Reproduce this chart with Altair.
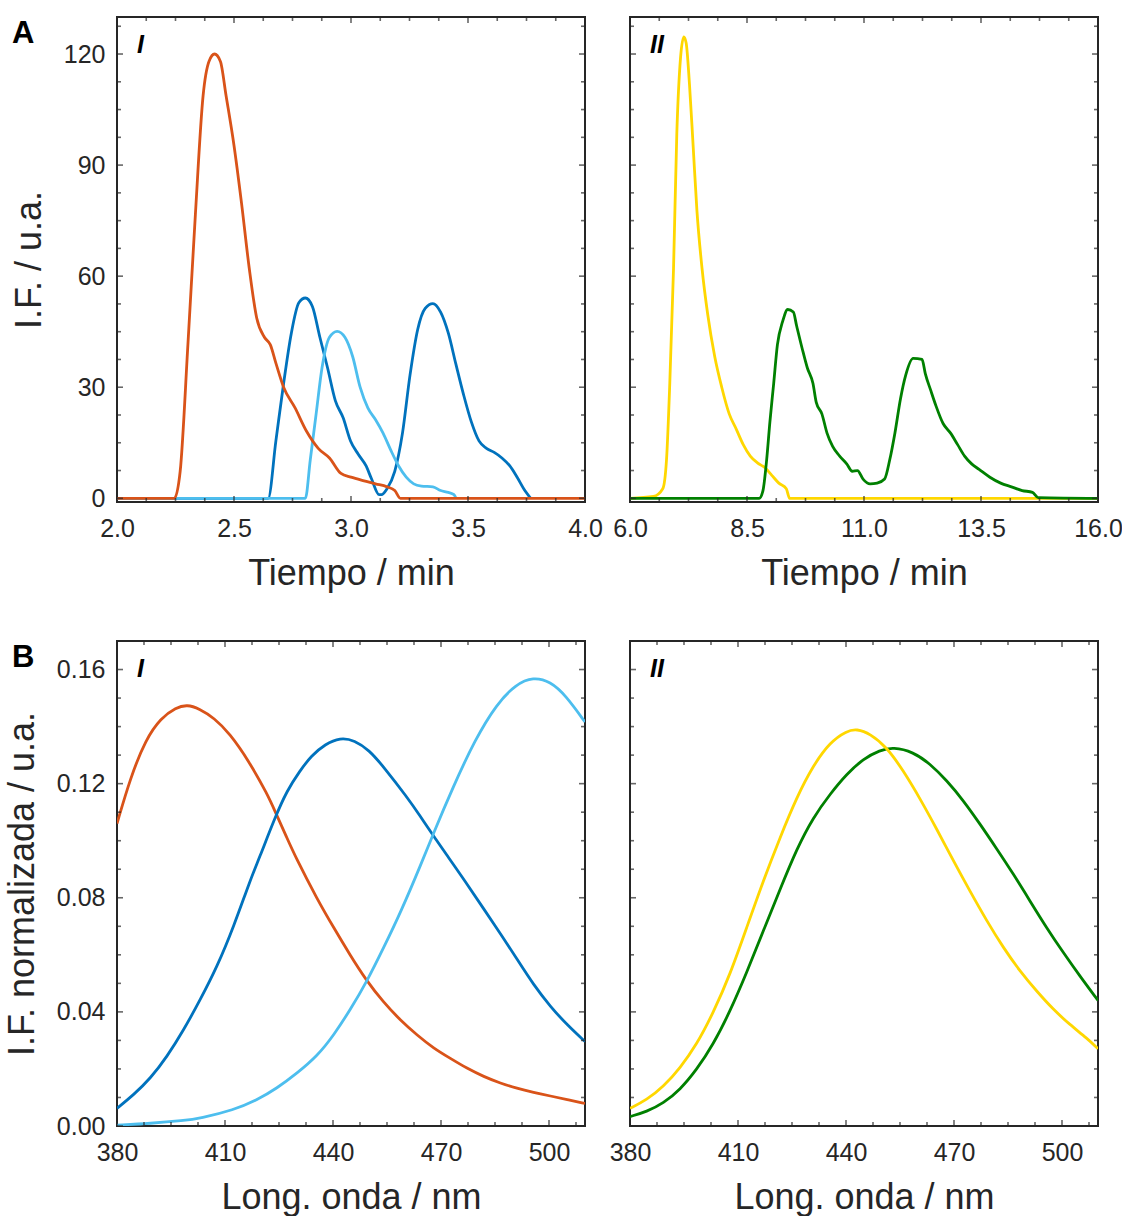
import altair as alt
import pandas as pd

FONT = "Liberation Sans"
INK = "#262626"
C_ORANGE = "#D95319"
C_BLUE = "#0072BD"
C_LBLUE = "#4DBEEE"
C_YELLOW = "#FFD700"
C_GREEN = "#008000"

# ---------------- A-I : chromatograms (Tiempo / min, I.F. / u.a.)
a1_blue_t = [2.0, 2.646, 2.679, 2.712, 2.745, 2.777, 2.805, 2.835, 2.867, 2.9, 2.933, 2.966, 2.998,
             3.031, 3.064, 3.088, 3.12, 3.13, 3.154, 3.187, 3.22, 3.252, 3.285, 3.317, 3.35, 3.383,
             3.416, 3.448, 3.481, 3.514, 3.547, 3.579, 3.612, 3.645, 3.678, 3.71, 3.743, 3.768]
a1_blue_y = [0, 0, 15.5, 31, 44.6, 52.8, 54.1, 51.8, 43.5, 35.2, 26.4, 21.8, 15.5,
             11.9, 8.8, 5.2, 1.0, 1.0, 2.6, 7.3, 17.6, 33.2, 45.6, 51.3, 52.6, 50.3,
             44.6, 36.3, 28.0, 20.7, 15.5, 13.5, 12.4, 10.9, 8.8, 5.7, 2.1, 0]
a1_lblue_t = [2.0, 2.805, 2.826, 2.851, 2.876, 2.908, 2.941, 2.974, 3.007, 3.039, 3.072, 3.105,
              3.137, 3.17, 3.203, 3.236, 3.268, 3.301, 3.35, 3.383, 3.416, 3.44, 3.449]
a1_lblue_y = [0, 0, 10.4, 22.8, 35.2, 43.5, 45.1, 43.5, 38.3, 30.0, 24.4, 21.2,
              17.6, 13.0, 8.8, 5.7, 3.9, 3.3, 3.1, 2.1, 1.6, 1.0, 0]
a1_orange_t = [2.0, 2.245, 2.27, 2.303, 2.335, 2.368, 2.393, 2.417, 2.442, 2.466, 2.5, 2.532,
               2.565, 2.597, 2.63, 2.655, 2.68, 2.712, 2.761, 2.81, 2.86, 2.908, 2.957, 3.0,
               3.056, 3.105, 3.154, 3.187, 3.211, 4.0]
a1_orange_y = [0, 0, 7.3, 41.5, 76.7, 108.8, 118.0, 120.0, 118.0, 108.8, 95.3, 79.8,
               62.2, 48.7, 43.5, 41.5, 36.3, 30.0, 24.4, 18.1, 13.5, 10.9, 6.7, 5.7,
               4.7, 3.9, 3.1, 2.1, 0, 0]

# ---------------- A-II
a2_yellow_t = [6.0, 6.5, 6.7, 6.78, 6.85, 6.93, 7.0, 7.08, 7.15, 7.2, 7.27, 7.35, 7.43, 7.54,
               7.66, 7.81, 7.96, 8.12, 8.27, 8.42, 8.57, 8.73, 8.88, 9.03, 9.18, 9.34, 9.41, 16.0]
a2_yellow_y = [0, 0.5, 2.6, 10.4, 31.0, 62.0, 98.4, 119.0, 124.6, 123.0, 112.0, 95.0, 77.7, 62.0,
               49.7, 38.3, 30.0, 22.8, 18.7, 14.5, 11.4, 9.5, 8.3, 6.2, 4.1, 2.6, 0, 0]
a2_green_t = [6.0, 8.76, 8.84, 8.92, 8.99, 9.07, 9.15, 9.26, 9.37, 9.49, 9.56, 9.68, 9.79, 9.91,
              9.98, 10.1, 10.21, 10.33, 10.48, 10.63, 10.75, 10.86, 10.98, 11.13, 11.28, 11.44,
              11.55, 11.66, 11.78, 11.89, 12.05, 12.24, 12.31, 12.43, 12.54, 12.69, 12.85, 13.0,
              13.15, 13.3, 13.46, 13.69, 13.92, 14.15, 14.38, 14.6, 14.72, 16.0]
a2_green_y = [0, 0, 2.0, 10.4, 20.7, 31.0, 41.5, 47.7, 51.0, 50.3, 46.6, 40.4, 35.2, 31.0,
              25.9, 22.8, 17.6, 14.0, 11.4, 9.3, 7.3, 7.5, 5.2, 3.9, 4.1, 5.2,
              10.4, 17.6, 26.9, 33.2, 37.8, 37.5, 33.7, 29.0, 24.9, 20.2, 17.6, 14.5,
              11.4, 9.3, 7.8, 5.7, 4.1, 3.1, 2.1, 1.6, 0.2, 0]

# ---------------- B-I : spectra (Long. onda / nm, I.F. normalizada / u.a.)
b1_orange_w = [380, 383.7, 388, 392.2, 396.4, 399.5, 402.8, 407, 411.3, 416.6, 421.9, 424, 427.2,
               429.5, 435.6, 440.2, 444.8, 449, 454.1, 458.7, 463.3, 468, 472.6, 477.2, 481.9,
               486.5, 491.1, 495.7, 500.4, 505, 510]
b1_orange_v = [0.106, 0.122, 0.1356, 0.143, 0.1467, 0.1477, 0.1463, 0.143, 0.1376, 0.128, 0.116,
               0.110, 0.101, 0.0945, 0.0795, 0.0695, 0.0598, 0.0515, 0.0432, 0.0371, 0.0319,
               0.0272, 0.0237, 0.0202, 0.0173, 0.015, 0.0132, 0.0118, 0.0105, 0.0093, 0.0079]
b1_blue_w = [380, 384.6, 389.3, 393.9, 398.5, 403.1, 407.8, 412.4, 417, 419.4, 424, 427.2, 430.8,
             434, 437.8, 442, 446, 450, 454, 460.5, 464.3, 467.7, 472, 477.1, 481.9, 486.5,
             491.1, 495.7, 500.4, 505, 510]
b1_blue_v = [0.0062, 0.0109, 0.0167, 0.0243, 0.0336, 0.0442, 0.0558, 0.0698, 0.0862, 0.0935, 0.1085,
             0.1175, 0.1245, 0.1298, 0.1338, 0.1362, 0.1352, 0.1318, 0.126, 0.1154, 0.1085, 0.102,
             0.0943, 0.0851, 0.076, 0.0675, 0.0585, 0.0495, 0.0418, 0.0355, 0.0296]
b1_lblue_w = [380, 389.3, 398.5, 403.1, 412.4, 418.9, 424.4, 430, 435.6, 440.2, 444.8, 449.4,
              454.1, 458.7, 464.7, 467.7, 473.4, 479.4, 485.5, 490.8, 495.6, 500.4, 504.6, 510]
b1_lblue_v = [0.0003, 0.0009, 0.0019, 0.0027, 0.0056, 0.0091, 0.0132, 0.0185, 0.0245, 0.0318,
              0.0408, 0.0506, 0.0626, 0.0746, 0.0925, 0.102, 0.119, 0.1353, 0.148, 0.1548,
              0.1574, 0.1558, 0.151, 0.1416]

# ---------------- B-II
b2_yellow_w = [380, 384.6, 389.3, 393.9, 398.5, 403.1, 407.8, 412.4, 417, 421.7, 426.3, 430.9,
               435.6, 440.2, 443, 446.7, 451.3, 455.9, 460.6, 465.2, 469.8, 474.4, 479.1, 483.7,
               488.3, 493, 497.6, 502.2, 506.9, 510]
b2_yellow_v = [0.0062, 0.0091, 0.0138, 0.0203, 0.0285, 0.0396, 0.0531, 0.0695, 0.0859, 0.1012,
               0.1152, 0.1264, 0.1346, 0.1385, 0.1392, 0.1375, 0.1328, 0.1246, 0.1147, 0.1041,
               0.093, 0.0824, 0.0719, 0.0625, 0.0543, 0.0472, 0.0408, 0.0355, 0.0308, 0.0271]
b2_green_w = [380, 384.6, 389.3, 393.9, 398.5, 403.1, 407.8, 412.4, 417, 421.7, 426.3, 430.9,
              435.6, 440.2, 444.8, 449.4, 453.1, 458.7, 463.3, 468, 472.6, 477.2, 481.9, 486.5,
              491.1, 495.7, 500.4, 505, 510]
b2_green_v = [0.0033, 0.005, 0.008, 0.0127, 0.0197, 0.0285, 0.0402, 0.0537, 0.0683, 0.083,
              0.0971, 0.1082, 0.1164, 0.1234, 0.1287, 0.1317, 0.1328, 0.1311, 0.127, 0.1211,
              0.1141, 0.1059, 0.0971, 0.0883, 0.0789, 0.0695, 0.0607, 0.0525, 0.044]

# ---------------- axes: tick values and labels
a1_xticks = [2.0, 2.125, 2.25, 2.375, 2.5, 2.625, 2.75, 2.875, 3.0, 3.125, 3.25, 3.375, 3.5,
             3.625, 3.75, 3.875, 4.0]
a1_xlabels = [2.0, 2.5, 3.0, 3.5, 4.0]
a2_xticks = [6.0, 6.625, 7.25, 7.875, 8.5, 9.125, 9.75, 10.375, 11.0, 11.625, 12.25, 12.875,
             13.5, 14.125, 14.75, 15.375, 16.0]
a2_xlabels = [6.0, 8.5, 11.0, 13.5, 16.0]
a_yticks = [0, 7.5, 15, 22.5, 30, 37.5, 45, 52.5, 60, 67.5, 75, 82.5, 90, 97.5, 105, 112.5, 120, 127.5]
a_ylabels = [0, 30, 60, 90, 120]
b_xticks = [380, 387.5, 395, 402.5, 410, 417.5, 425, 432.5, 440, 447.5, 455, 462.5, 470, 477.5,
            485, 492.5, 500, 507.5]
b_xlabels = [380, 410, 440, 470, 500]
b_yticks = [0.0, 0.01, 0.02, 0.03, 0.04, 0.05, 0.06, 0.07, 0.08, 0.09, 0.1, 0.11, 0.12, 0.13,
            0.14, 0.15, 0.16, 0.17]
b_ylabels = [0.0, 0.04, 0.08, 0.12, 0.16]

W, H = 468, 485
TICK_MAJOR, TICK_MINOR = 6, 4


def panel(lines, xdom, ydom, xticks, xmajor, yticks, ymajor, xfmt, yfmt,
          xtitle, ytitle, tag, curve, letter=None):
    xscale = alt.Scale(domain=xdom, nice=False, zero=False)
    yscale = alt.Scale(domain=ydom, nice=False, zero=False)
    xaxis = alt.Axis(values=xmajor, format=xfmt, title=xtitle, labelPadding=14, titlePadding=15)
    if ytitle:
        yaxis = alt.Axis(values=ymajor, format=yfmt, title=ytitle, labelPadding=12, titlePadding=15)
    else:
        yaxis = None
    X = alt.X("x:Q", scale=xscale, axis=xaxis)
    Y = alt.Y("y:Q", scale=yscale, axis=yaxis)
    layers = []
    for xs, ys, col in lines:
        df = pd.DataFrame({"x": xs, "y": ys})
        layers.append(alt.Chart(df).mark_line(color=col, strokeWidth=2.8, clip=True,
                                              interpolate=curve)
                      .encode(x=X, y=Y))
    xt = pd.DataFrame({"x": xticks, "major": [v in xmajor for v in xticks]})
    yt = pd.DataFrame({"y": yticks, "major": [v in ymajor for v in yticks]})
    size = alt.condition("datum.major", alt.value(2 * TICK_MAJOR), alt.value(2 * TICK_MINOR))
    for pos in (0, H):
        layers.append(alt.Chart(xt).mark_tick(orient="vertical", clip=True, thickness=1.6, color=INK)
                      .encode(x=X, y=alt.value(pos), size=size))
    for pos in (0, W):
        layers.append(alt.Chart(yt).mark_tick(orient="horizontal", clip=True, thickness=1.6, color=INK)
                      .encode(y=Y, x=alt.value(pos), size=size))
    layers.append(alt.Chart(pd.DataFrame({"t": [tag]})).mark_text(
        align="left", baseline="alphabetic", font=FONT, fontSize=25, fontWeight="bold",
        fontStyle="italic", color="black").encode(x=alt.value(20), y=alt.value(36), text="t:N"))
    if letter:
        layers.append(alt.Chart(pd.DataFrame({"t": [letter]})).mark_text(
            align="left", baseline="alphabetic", font=FONT, fontSize=31, fontWeight="bold",
            color="black").encode(x=alt.value(-105), y=alt.value(26), text="t:N"))
    return alt.layer(*layers).properties(width=W, height=H)


tl = panel([(a1_blue_t, a1_blue_y, C_BLUE), (a1_lblue_t, a1_lblue_y, C_LBLUE),
            (a1_orange_t, a1_orange_y, C_ORANGE)],
           [2.0, 4.0], [-1, 130], a1_xticks, a1_xlabels, a_yticks, a_ylabels, ".1f", "d",
           "Tiempo / min", "I.F. / u.a.", "I", "monotone", "A")
tr = panel([(a2_yellow_t, a2_yellow_y, C_YELLOW), (a2_green_t, a2_green_y, C_GREEN)],
           [6.0, 16.0], [-1, 130], a2_xticks, a2_xlabels, a_yticks, a_ylabels, ".1f", "d",
           "Tiempo / min", None, "II", "monotone")
bl = panel([(b1_orange_w, b1_orange_v, C_ORANGE), (b1_blue_w, b1_blue_v, C_BLUE),
            (b1_lblue_w, b1_lblue_v, C_LBLUE)],
           [380, 510], [0, 0.17], b_xticks, b_xlabels, b_yticks, b_ylabels, "d", ".2f",
           "Long. onda / nm", "I.F. normalizada / u.a.", "I", "basis", "B")
br = panel([(b2_green_w, b2_green_v, C_GREEN), (b2_yellow_w, b2_yellow_v, C_YELLOW)],
           [380, 510], [0, 0.17], b_xticks, b_xlabels, b_yticks, b_ylabels, "d", ".2f",
           "Long. onda / nm", None, "II", "basis")

chart = (
    alt.concat(tl, tr, bl, br, columns=2, spacing={"row": 139, "column": 45}, bounds="flush")
    .properties(autosize=alt.AutoSizeParams(type="none"),
                padding={"left": 117, "top": 17, "right": 1005, "bottom": 1199})
    .configure(font=FONT)
    .configure_view(stroke=INK, strokeWidth=2)
    .configure_axis(grid=False, domain=False, ticks=False, tickSize=0, labelFlush=False,
                    labelOverlap=False, labelFont=FONT, titleFont=FONT, labelFontSize=25,
                    titleFontSize=36, titleFontWeight="normal", labelColor=INK, titleColor=INK)
)

chart.save("out.html", embed_options={"renderer": "svg", "actions": False})
